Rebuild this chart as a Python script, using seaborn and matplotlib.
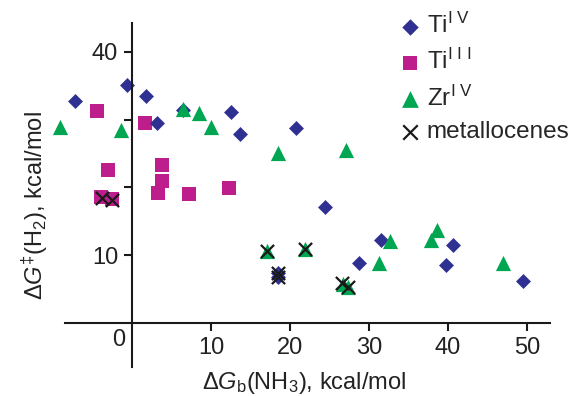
import numpy as np
import pandas as pd
import matplotlib
matplotlib.use("Agg")
import matplotlib.pyplot as plt
import seaborn as sns

# ---- data ----
tiiv_x = [-7.2, -0.6, 1.8, 3.2, 6.5, 12.5, 13.7, 20.8, 24.4, 28.7, 31.5, 40.6, 39.8, 49.5, 18.5, 18.5]
tiiv_y = [32.7, 35.1, 33.5, 29.5, 31.4, 31.1, 27.9, 28.8, 17.1, 8.9, 12.2, 11.5, 8.6, 6.2, 7.4, 6.8]

tiiii_x = [-4.4, 1.7, -3.0, 3.8, 3.8, 3.3, 7.2, 12.3, -3.9, -2.5]
tiiii_y = [31.3, 29.5, 22.6, 23.3, 20.9, 19.2, 19.0, 19.9, 18.6, 18.3]

zr_x = [-9.1, -1.4, 6.5, 8.5, 10.0, 18.5, 27.1, 17.1, 21.9, 26.7, 27.3, 31.3, 32.7, 37.9, 38.6, 47.0]
zr_y = [28.9, 28.5, 31.6, 31.0, 28.9, 25.1, 25.5, 10.6, 10.9, 5.8, 5.3, 8.9, 12.1, 12.2, 13.7, 8.9]

met_x = [-3.8, -2.5, 17.1, 21.9, 18.5, 18.5, 26.6, 27.3]
met_y = [18.4, 18.1, 10.6, 10.9, 7.4, 6.8, 5.9, 5.3]

x_ticks = [10, 20, 30, 40, 50]
y_ticks = [10, 20, 30, 40]
y_tick_labels = ["10", "", "", "40"]

labels = {
    "tiiv": r"Ti$^{\mathrm{I\ V}}$",
    "tiiii": r"Ti$^{\mathrm{I\ I\ I}}$",
    "zr": r"Zr$^{\mathrm{I\ V}}$",
    "met": "metallocenes",
}
colors = {"tiiv": "#2e3192", "tiiii": "#be1e8c", "zr": "#00a651", "met": "#1a1a1a"}

# ---- style ----
sns.set_style("ticks")
plt.rcParams["font.family"] = ["Liberation Sans", "DejaVu Sans"]
plt.rcParams["mathtext.fontset"] = "custom"
plt.rcParams["mathtext.rm"] = "Liberation Sans"
plt.rcParams["mathtext.it"] = "Liberation Sans:italic"
plt.rcParams["mathtext.bf"] = "Liberation Sans:bold"
plt.rcParams["axes.linewidth"] = 1.5

fig = plt.figure(figsize=(5.74, 3.96), dpi=100)
ax = fig.add_axes([53 / 574, 0.073, 501.6 / 574, 343.7 / 396])

df_sq = pd.DataFrame({"x": tiiii_x, "y": tiiii_y})
df_di = pd.DataFrame({"x": tiiv_x, "y": tiiv_y})
df_tr = pd.DataFrame({"x": zr_x, "y": zr_y})
df_me = pd.DataFrame({"x": met_x, "y": met_y})

sns.scatterplot(data=df_sq, x="x", y="y", marker="s", s=90, color=colors["tiiii"],
                linewidth=0, label=labels["tiiii"], ax=ax, clip_on=False)
sns.scatterplot(data=df_di, x="x", y="y", marker="D", s=58, color=colors["tiiv"],
                linewidth=0, label=labels["tiiv"], ax=ax, clip_on=False)
sns.scatterplot(data=df_tr, x="x", y="y", marker="^", s=120, color=colors["zr"],
                linewidth=0, label=labels["zr"], ax=ax, clip_on=False)
sns.scatterplot(data=df_me, x="x", y="y", marker="x", s=90, color=colors["met"],
                linewidth=1.6, label=labels["met"], ax=ax, clip_on=False)

# ---- axes crossing at the origin ----
ax.set_xlim(-10, 53.5)
ax.set_ylim(-6.5, 44.2)
for side in ["top", "right"]:
    ax.spines[side].set_visible(False)
ax.spines["left"].set_position(("data", 0))
ax.spines["bottom"].set_position(("data", 0))
ax.spines["bottom"].set_bounds(-8.5, 52.9)
ax.spines["left"].set_color("#1a1a1a")
ax.spines["bottom"].set_color("#1a1a1a")

ax.set_xticks(x_ticks)
ax.set_yticks(y_ticks)
ax.set_yticklabels(y_tick_labels)
ax.tick_params(direction="out", length=6, width=1.5, labelsize=17, pad=4,
               color="#1a1a1a", labelcolor="#222222")
ax.text(-1.7, -2.5, "0", fontsize=17, color="#222222", ha="center", va="center")

ax.set_xlabel(r"$\Delta G_{\mathrm{b}}$(NH$_3$), kcal/mol", fontsize=17, color="#222222")
ax.set_ylabel(r"$\Delta G^{\ddagger}$(H$_2$), kcal/mol", fontsize=17, color="#222222")
ax.xaxis.set_label_coords(0.5, -0.009)
ax.yaxis.set_label_coords(-0.005, 0.47)

handles, labs = ax.get_legend_handles_labels()
order = [1, 0, 2, 3]
ax.legend([handles[i] for i in order], [labs[i] for i in order],
          loc="upper left", bbox_to_anchor=(400 / 574, 1 - 13 / 396),
          bbox_transform=fig.transFigure, frameon=False, fontsize=17.5,
          handlelength=0.8, handletextpad=0.3, labelspacing=0.45, borderpad=0,
          borderaxespad=0, markerscale=1.1)

fig.savefig("out.png", dpi=100)
